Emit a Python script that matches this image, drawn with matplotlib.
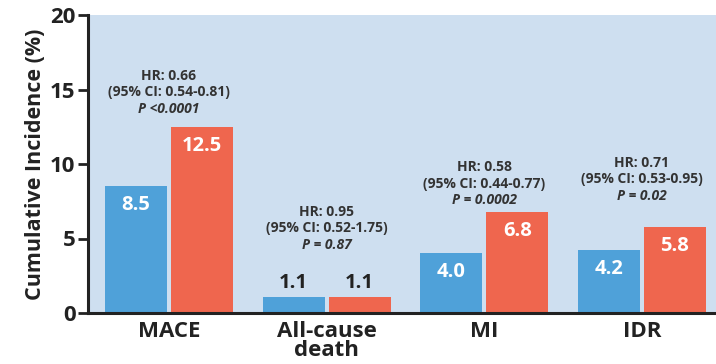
import matplotlib
matplotlib.use("Agg")
import matplotlib.pyplot as plt
import numpy as np

categories = ["MACE", "All-cause\ndeath", "MI", "IDR"]
blue_values = [8.5, 1.1, 4.0, 4.2]
red_values = [12.5, 1.1, 6.8, 5.8]
hr_text = ["HR: 0.66", "HR: 0.95", "HR: 0.58", "HR: 0.71"]
ci_text = ["(95% CI: 0.54-0.81)", "(95% CI: 0.52-1.75)",
           "(95% CI: 0.44-0.77)", "(95% CI: 0.53-0.95)"]
p_text = ["P <0.0001", "P = 0.87", "P = 0.0002", "P = 0.02"]
yticks = [0, 5, 10, 15, 20]

BLUE = "#4fa1d9"
RED = "#ef664e"
BG = "#cedff0"
DARK = "#222222"
ANN = "#333333"

plt.rcParams['font.family'] = ['Open Sans', 'DejaVu Sans']

fig = plt.figure(figsize=(7.16, 3.64), dpi=100)
ax = fig.add_axes([88/716, 51/364, 628/716, 298/364])
ax.set_facecolor(BG)

x = np.arange(len(categories))
off = 0.209
w = 0.393
bb = ax.bar(x - off, blue_values, width=w, color=BLUE, zorder=2)
br = ax.bar(x + off, red_values, width=w, color=RED, zorder=2)

for bars, vals in ((bb, blue_values), (br, red_values)):
    for b, v in zip(bars, vals):
        cx = b.get_x() + b.get_width() / 2
        if v >= 2:
            ax.annotate(f"{v:.1f}", (cx, v), xytext=(0, -19), textcoords="offset pixels",
                        ha="center", va="center", color="white", fontsize=14.5,
                        fontweight="bold")
        else:
            ax.annotate(f"{v:.1f}", (cx, v), xytext=(0, 14), textcoords="offset pixels",
                        ha="center", va="center", color=DARK, fontsize=14.5,
                        fontweight="bold")

# HR / CI / P annotation blocks, centred on each group
ann_y = [14.83, 5.70, 8.66, 8.99]
for i in range(len(categories)):
    ax.annotate(hr_text[i], (x[i], ann_y[i]), xytext=(0, 16.5), textcoords="offset pixels",
                ha="center", va="center", fontsize=10, fontweight="bold", color=ANN)
    ax.annotate(ci_text[i], (x[i], ann_y[i]), ha="center", va="center",
                fontsize=10, fontweight="bold", color=ANN)
    ax.annotate(p_text[i], (x[i], ann_y[i]), xytext=(0, -16.5), textcoords="offset pixels",
                ha="center", va="center", fontsize=10, fontweight="bold",
                fontstyle="italic", color=ANN)

ax.set_xlim(-0.514, 3.47)
ax.set_ylim(0, 20)
ax.set_yticks(yticks)
ax.set_yticklabels([str(t) for t in yticks], fontsize=16, fontweight="bold", color=DARK)
ax.set_xticks(x)
ax.set_xticklabels(categories, fontsize=16, fontweight="bold", color=DARK, linespacing=0.85)
ax.tick_params(axis="x", length=0, pad=6)
ax.tick_params(axis="y", length=7, width=2, color=DARK, pad=2)
ax.set_ylabel("Cumulative Incidence (%)", fontsize=15.5, fontweight="bold", color=DARK, labelpad=3)

for s in ("top", "right"):
    ax.spines[s].set_visible(False)
for s in ("left", "bottom"):
    ax.spines[s].set_linewidth(2.2)
    ax.spines[s].set_color(DARK)

fig.savefig("out.png", dpi=100)
